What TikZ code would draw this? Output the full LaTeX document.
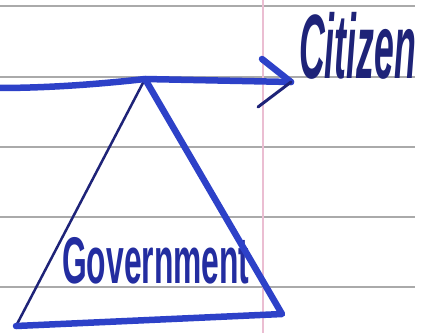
\documentclass[tikz,border=0pt]{standalone}
\usepackage{fontspec}
\setmainfont{Liberation Sans}
\definecolor{penblue}{RGB}{45,65,200}
\definecolor{inkdark}{RGB}{30,35,120}
\definecolor{textblue}{RGB}{35,45,160}
\definecolor{rulegray}{RGB}{170,170,170}
\definecolor{marginpink}{RGB}{235,190,210}
\tikzset{
  ruleline/.style={draw=rulegray, line width=1.1pt},
  marginline/.style={draw=marginpink, line width=1.2pt},
  pen/.style={draw=penblue, line width=6.5pt, line cap=round, line join=round},
  thinpen/.style={draw=inkdark, line width=3pt, line cap=round},
  darkpen/.style={draw=inkdark, line width=2.5pt, line cap=round},
  label/.style={inner sep=0pt, anchor=base west}
}
\begin{document}
\begin{tikzpicture}[x=1pt,y=-1pt]
\useasboundingbox (0,0) rectangle (427,333);
\fill[white] (0,0) rectangle (427,333);
\foreach \yy in {6,77,147,217,287} \draw[ruleline] (0,\yy) -- (415,\yy);
\draw[marginline] (263,0) -- (263,333);
% coordinates
\coordinate (start) at (-3,88);
\coordinate (apex) at (145,79);
\coordinate (tip) at (291,82);
\coordinate (bl) at (16,326);
\coordinate (br) at (282,314);
\coordinate (barbup) at (262,59);
\coordinate (barblow) at (258,107);
% labels
\node[label, text=inkdark] (cit) at (299,78)
  {\scalebox{0.41}[1.05]{\fontsize{87}{87}\selectfont\bfseries\itshape Citizen}};
\node[label, text=textblue] (gov) at (62,283)
  {\scalebox{0.53}[1.1]{\fontsize{60}{60}\selectfont\bfseries Government}};
% triangle
\draw[darkpen] (apex) -- (bl);
\draw[pen] (apex) -- (br) -- (bl);
% arrow
\draw[pen] (start) .. controls (50,88) and (100,84) .. (apex) -- (tip);
\draw[pen] (barbup) -- (tip);
\draw[thinpen] (barblow) -- (tip);
\end{tikzpicture}
\end{document}
